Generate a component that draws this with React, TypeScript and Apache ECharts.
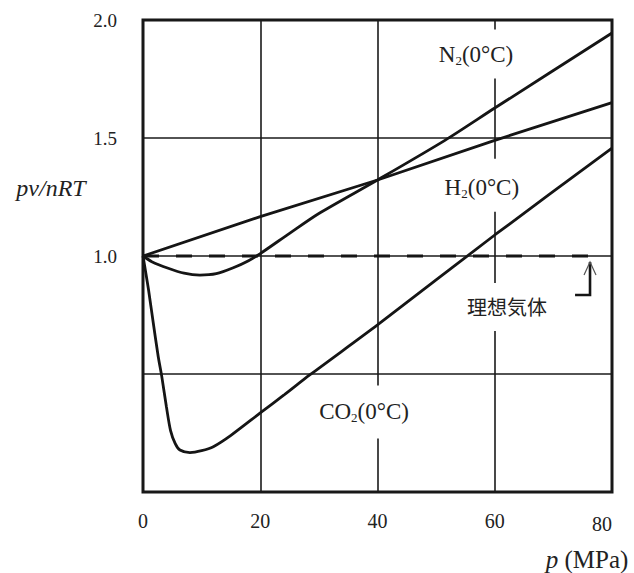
import React, { useEffect, useRef } from "react";
import * as echarts from "echarts";

// ---- data ----
const pressureTicks = [0, 20, 40, 60, 80];
const ratioTicksShown = ["1.0", "1.5", "2.0"];

const n2P = [0, 1.5, 4.3, 7, 9.7, 12.5, 15.4, 18, 20, 25, 30, 40, 51.5, 60, 80];
const n2V = [1.0, 0.976, 0.948, 0.927, 0.919, 0.925, 0.95, 0.98, 1.01, 1.096, 1.18, 1.322, 1.49, 1.627, 1.945];

const h2P = [0, 20, 40, 60, 80];
const h2V = [1.0, 1.167, 1.322, 1.49, 1.65];

const co2P = [0, 0.5, 0.95, 1.76, 2.6, 3.2, 4.0, 4.7, 5.5, 6.3, 8, 10, 12, 15, 20, 24, 28.5, 40, 60, 80];
const co2V = [1.0, 0.925, 0.856, 0.715, 0.573, 0.49, 0.36, 0.26, 0.205, 0.178, 0.167, 0.175, 0.192, 0.24, 0.335, 0.41, 0.497, 0.708, 1.089, 1.457];

const idealP = [0, 77.1];
const idealV = [1.0, 1.0];

const seriesNames = ["N2(0°C)", "H2(0°C)", "CO2(0°C)", "理想気体"];

// ---- annotation anchors (data units) ----
const anchorN2 = [56.8, 1.856];
const anchorH2 = [57.8, 1.3];
const anchorIdeal = [62.1, 0.784];
const anchorCO2 = [37.7, 0.339];
const arrowTip = [76.25, 0.975];
const arrowCorner = [76.25, 0.835];
const arrowTail = [73.7, 0.835];

const SERIF = "'Liberation Serif', 'Times New Roman', serif";
const INK = "#151515";

const zip = (a: number[], b: number[]) => a.map((x, i) => [x, b[i]]);

export default function App() {
  const ref = useRef<HTMLDivElement>(null);

  useEffect(() => {
    if (!ref.current) return;
    const chart = echarts.init(ref.current, undefined, { renderer: "svg" });

    const lineStyle = { color: INK, width: 2.8 };
    chart.setOption({
      animation: false,
      backgroundColor: "#ffffff",
      grid: {
        left: 143,
        top: 20,
        right: 22,
        bottom: 81,
        show: true,
        borderColor: INK,
        borderWidth: 3,
        containLabel: false,
        outerBoundsMode: "none",
      },
      xAxis: {
        type: "value",
        min: 0,
        max: 80,
        interval: 20,
        axisLine: { show: false },
        axisTick: { show: false },
        splitLine: { show: true, lineStyle: { color: "#1a1a1a", width: 1.6 } },
        axisLabel: {
          margin: 19,
          color: "#222",
          fontFamily: SERIF,
          fontSize: 20,
          formatter: (v: number) =>
            pressureTicks.indexOf(v) === pressureTicks.length - 1 ? `{r|${v}}` : `${v}`,
          rich: {
            r: { fontFamily: SERIF, fontSize: 20, color: "#222", padding: [3, 20, 0, 0] },
          },
        },
      },
      yAxis: {
        type: "value",
        min: 0,
        max: 2,
        interval: 0.5,
        axisLine: { show: false },
        axisTick: { show: false },
        splitLine: { show: true, lineStyle: { color: "#1a1a1a", width: 1.6 } },
        axisLabel: {
          margin: 26,
          color: "#222",
          fontFamily: SERIF,
          fontSize: 19,
          formatter: (v: number) => {
            const s = v.toFixed(1);
            return ratioTicksShown.indexOf(s) >= 0 ? s : "";
          },
        },
      },
      series: [
        {
          name: seriesNames[0],
          type: "line",
          data: zip(n2P, n2V),
          smooth: 0.25,
          showSymbol: false,
          lineStyle,
          z: 3,
        },
        {
          name: seriesNames[1],
          type: "line",
          data: zip(h2P, h2V),
          showSymbol: false,
          lineStyle,
          z: 3,
        },
        {
          name: seriesNames[2],
          type: "line",
          data: zip(co2P, co2V),
          smooth: 0.25,
          showSymbol: false,
          lineStyle,
          z: 3,
        },
        {
          name: seriesNames[3],
          type: "line",
          data: zip(idealP, idealV),
          showSymbol: false,
          lineStyle: { color: INK, width: 2.8, type: [16, 17] },
          z: 3,
        },
      ],
    });

    const px = (pt: number[]) => chart.convertToPixel({ gridIndex: 0 }, pt) as number[];
    const [n2x, n2y] = px(anchorN2);
    const [h2x, h2y] = px(anchorH2);
    const [igx, igy] = px(anchorIdeal);
    const [cox, coy] = px(anchorCO2);
    const tip = px(arrowTip);
    const corner = px(arrowCorner);
    const tail = px(arrowTail);

    const chemLabel = (x: number, y: number, text: string, pad: number[]) => ({
      type: "text",
      x,
      y,
      z: 1,
      style: {
        text,
        fill: "#222",
        fontFamily: SERIF,
        fontSize: 23,
        align: "center",
        verticalAlign: "middle",
        textAlign: "center",
        textVerticalAlign: "middle",
        backgroundColor: "#ffffff",
        padding: pad,
        rich: {
          s: { fontFamily: SERIF, fontSize: 13, fill: "#222", padding: [12, 0, 0, 0] },
        },
      },
    });

    chart.setOption({
      graphic: [
        chemLabel(n2x, n2y, "N{s|2}(0°C)", [13, 4, 11, 4]),
        chemLabel(h2x, h2y, "H{s|2}(0°C)", [16, 4, 12, 4]),
        chemLabel(cox, coy, "CO{s|2}(0°C)", [14, 4, 14, 4]),
        {
          type: "text",
          x: igx,
          y: igy,
          z: 1,
          style: {
            text: "理想気体",
            fill: "#222",
            fontFamily: "'Noto Sans CJK JP', sans-serif",
            fontSize: 20,
            align: "center",
            verticalAlign: "middle",
            textAlign: "center",
            textVerticalAlign: "middle",
            backgroundColor: "#ffffff",
            padding: [14, 4, 14, 4],
          },
        },
        {
          type: "polyline",
          z: 4,
          shape: { points: [tail, corner, tip] },
          style: { stroke: INK, lineWidth: 2.6, fill: null },
        },
        {
          type: "polyline",
          z: 4,
          shape: {
            points: [
              [tip[0] - 6, tip[1] + 13],
              [tip[0], tip[1]],
              [tip[0] + 6, tip[1] + 13],
            ],
          },
          style: { stroke: "#555", lineWidth: 1.2, fill: null },
        },
        {
          type: "text",
          x: 51,
          y: 188,
          style: {
            text: "pv/nRT",
            fill: "#222",
            fontFamily: SERIF,
            fontStyle: "italic",
            fontSize: 24,
            align: "center",
            verticalAlign: "middle",
            textAlign: "center",
            textVerticalAlign: "middle",
          },
        },
        {
          type: "text",
          x: 587,
          y: 559,
          style: {
            text: "{i|p} (MPa)",
            fill: "#222",
            fontFamily: SERIF,
            fontSize: 25,
            align: "center",
            verticalAlign: "middle",
            textAlign: "center",
            textVerticalAlign: "middle",
            rich: {
              i: { fontFamily: SERIF, fontStyle: "italic", fontSize: 25, fill: "#222" },
            },
          },
        },
      ],
    });

    return () => chart.dispose();
  }, []);

  return (
    <div
      ref={ref}
      style={{ position: "absolute", left: 0, top: 0, width: 634, height: 573, background: "#fff" }}
    />
  );
}
